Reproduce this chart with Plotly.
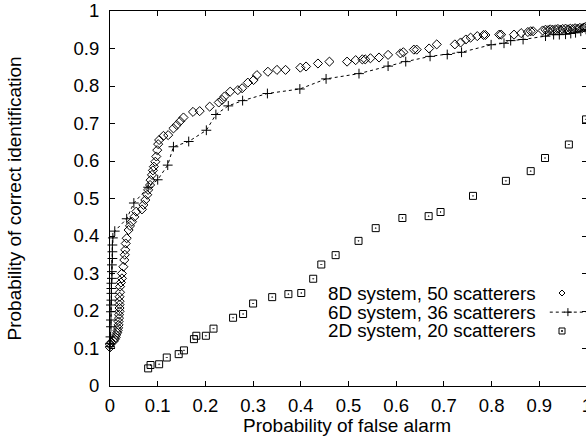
import plotly.graph_objects as go

# ---------------- data ----------------
d8_x = [0.000, 0.000, 0.002, 0.008, 0.010, 0.012, 0.013, 0.015, 0.016, 0.017, 0.018, 0.018,
        0.019, 0.019, 0.020, 0.020, 0.020, 0.020, 0.020, 0.021, 0.021, 0.023, 0.025, 0.025,
        0.028, 0.030, 0.031, 0.032, 0.033, 0.035, 0.039, 0.042, 0.046, 0.051, 0.055, 0.067,
        0.070, 0.074, 0.078, 0.080, 0.084, 0.085, 0.088, 0.090, 0.092, 0.095, 0.097, 0.099,
        0.101, 0.103, 0.112, 0.122, 0.133, 0.140, 0.147, 0.154, 0.174, 0.188, 0.209, 0.228,
        0.235, 0.240, 0.252, 0.268, 0.277, 0.289, 0.301, 0.308, 0.331, 0.350, 0.368, 0.399,
        0.411, 0.436, 0.460, 0.497, 0.515, 0.529, 0.535, 0.546, 0.564, 0.583, 0.609, 0.615,
        0.637, 0.643, 0.669, 0.685, 0.723, 0.735, 0.746, 0.756, 0.770, 0.783, 0.787, 0.816,
        0.820, 0.847, 0.862, 0.876, 0.882, 0.887, 0.907, 0.913, 0.918, 0.923, 0.928, 0.934,
        0.939, 0.944, 0.949, 0.955, 0.960, 0.965, 0.970, 0.975, 0.980, 0.985, 0.990, 0.994,
        0.998]
d8_y = [0.103, 0.110, 0.116, 0.120, 0.125, 0.130, 0.136, 0.142, 0.148, 0.155, 0.163, 0.172,
        0.181, 0.190, 0.199, 0.208, 0.217, 0.226, 0.238, 0.250, 0.265, 0.276, 0.287, 0.300,
        0.318, 0.336, 0.350, 0.363, 0.380, 0.394, 0.416, 0.427, 0.438, 0.451, 0.465, 0.471,
        0.483, 0.496, 0.510, 0.523, 0.536, 0.549, 0.563, 0.575, 0.585, 0.598, 0.612, 0.629,
        0.645, 0.656, 0.667, 0.669, 0.687, 0.696, 0.706, 0.716, 0.731, 0.733, 0.745, 0.756,
        0.763, 0.772, 0.785, 0.789, 0.794, 0.809, 0.816, 0.829, 0.838, 0.843, 0.843, 0.849,
        0.852, 0.860, 0.865, 0.865, 0.869, 0.871, 0.871, 0.874, 0.876, 0.883, 0.887, 0.890,
        0.897, 0.897, 0.900, 0.911, 0.911, 0.916, 0.924, 0.929, 0.933, 0.936, 0.936, 0.937,
        0.937, 0.937, 0.941, 0.944, 0.946, 0.946, 0.948, 0.950, 0.949, 0.951, 0.950, 0.951,
        0.952, 0.950, 0.952, 0.953, 0.951, 0.953, 0.952, 0.954, 0.953, 0.955, 0.954, 0.956,
        0.958]

d6_x = [0.000, 0.000, 0.001, 0.002, 0.002, 0.002, 0.002, 0.003, 0.003, 0.003, 0.003, 0.004,
        0.004, 0.004, 0.005, 0.005, 0.005, 0.006, 0.010, 0.035, 0.050, 0.080, 0.100, 0.121,
        0.133, 0.165, 0.202, 0.222, 0.248, 0.278, 0.330, 0.398, 0.453, 0.522, 0.583, 0.620,
        0.671, 0.707, 0.737, 0.799, 0.826, 0.840, 0.866, 0.913, 0.930, 0.942, 0.955, 0.966,
        0.976, 0.987, 0.998]
d6_y = [0.105, 0.113, 0.131, 0.158, 0.176, 0.198, 0.216, 0.229, 0.247, 0.260, 0.274, 0.287,
        0.305, 0.323, 0.340, 0.358, 0.376, 0.395, 0.413, 0.446, 0.488, 0.530, 0.550, 0.589,
        0.638, 0.652, 0.682, 0.724, 0.747, 0.761, 0.780, 0.792, 0.819, 0.833, 0.853, 0.865,
        0.879, 0.884, 0.890, 0.910, 0.914, 0.921, 0.924, 0.933, 0.937, 0.937, 0.938, 0.940,
        0.942, 0.946, 0.951]

d2_x = [0.080, 0.085, 0.103, 0.119, 0.144, 0.155, 0.176, 0.181, 0.201, 0.217, 0.258, 0.279,
        0.300, 0.340, 0.374, 0.401, 0.426, 0.443, 0.473, 0.521, 0.557, 0.613, 0.668, 0.693,
        0.761, 0.830, 0.882, 0.912, 0.962, 0.998]
d2_y = [0.047, 0.056, 0.058, 0.076, 0.085, 0.095, 0.125, 0.134, 0.134, 0.153, 0.182, 0.192,
        0.220, 0.237, 0.245, 0.248, 0.286, 0.324, 0.349, 0.387, 0.421, 0.448, 0.453, 0.464,
        0.507, 0.547, 0.573, 0.608, 0.644, 0.711]

series_names = ["8D system, 50 scatterers", "6D system, 36 scatterers", "2D system, 20 scatterers"]
x_title = "Probability of false alarm"
y_title = "Probability of correct identification"

FONT = "Liberation Sans, Arial, Helvetica, sans-serif"

fig = go.Figure()
fig.add_trace(go.Scatter(x=d8_x, y=d8_y, mode="markers", name=series_names[0],
                         marker=dict(symbol="diamond-open", size=7, color="black",
                                     line=dict(width=1, color="black")),
                         cliponaxis=False, showlegend=False))
fig.add_trace(go.Scatter(x=d6_x, y=d6_y, mode="lines+markers", name=series_names[1],
                         line=dict(color="black", width=1, dash="3px,3px"),
                         marker=dict(symbol="cross-thin-open", size=7, color="black",
                                     line=dict(width=1, color="black")),
                         cliponaxis=False, showlegend=False))
fig.add_trace(go.Scatter(x=d2_x, y=d2_y, mode="markers", name=series_names[2],
                         marker=dict(symbol="square-open-dot", size=7, color="black",
                                     line=dict(width=1, color="black")),
                         cliponaxis=False, showlegend=False))

axis_common = dict(range=[0, 1], dtick=0.1, tick0=0, ticks="inside", ticklen=5,
                   tickcolor="black", mirror="allticks", showline=True, linecolor="black",
                   linewidth=1, showgrid=False, zeroline=False, ticklabeloverflow="allow",
                   tickfont=dict(family=FONT, size=18.5, color="black"))

# figure is 1px wider than the window so the right frame falls just outside, as in the reference
fig.update_layout(
    width=587, height=438,
    margin=dict(l=110, r=0, t=11, b=52, autoexpand=False),
    paper_bgcolor="white", plot_bgcolor="white",
    xaxis=dict(**axis_common, ticklabelstandoff=3),
    yaxis=dict(**axis_common, ticklabelstandoff=6),
    font=dict(family=FONT, size=19, color="black"),
)

# axis titles
fig.add_annotation(text=x_title, xref="paper", yref="paper", x=0.4979, y=-0.104,
                   xanchor="center", yanchor="middle", showarrow=False,
                   font=dict(family=FONT, size=19, color="black"))
fig.add_annotation(text=y_title, xref="paper", yref="paper", x=-0.1992, y=0.5,
                   xanchor="center", yanchor="middle", textangle=-90, showarrow=False,
                   font=dict(family=FONT, size=19, color="black"))

# legend (gnuplot style: text right-aligned, sample on the right)
leg_y = [0.248, 0.197, 0.1467]
for name, yy in zip(series_names, leg_y):
    fig.add_annotation(text=name, xref="paper", yref="paper", x=0.8973, y=yy,
                       xanchor="right", yanchor="middle", showarrow=False,
                       font=dict(family=FONT, size=18.8, color="black"))

fig.add_shape(type="path", xref="paper", yref="paper", xsizemode="pixel", ysizemode="pixel",
              xanchor=0.9476, yanchor=leg_y[0], path="M 0,3 L 3,0 L 0,-3 L -3,0 Z",
              line=dict(color="black", width=1))
fig.add_shape(type="line", xref="paper", yref="paper", x0=0.922, x1=1.0, y0=leg_y[1], y1=leg_y[1],
              line=dict(color="black", width=1, dash="3px,3px"))
fig.add_shape(type="path", xref="paper", yref="paper", xsizemode="pixel", ysizemode="pixel",
              xanchor=0.960, yanchor=leg_y[1], path="M -4,0 L 4,0 M 0,-4 L 0,4",
              line=dict(color="black", width=1))
fig.add_shape(type="path", xref="paper", yref="paper", xsizemode="pixel", ysizemode="pixel",
              xanchor=0.9476, yanchor=leg_y[2], path="M -3,-3 L 3,-3 L 3,3 L -3,3 Z",
              line=dict(color="black", width=1))
fig.add_shape(type="path", xref="paper", yref="paper", xsizemode="pixel", ysizemode="pixel",
              xanchor=0.9476, yanchor=leg_y[2], path="M -0.5,-0.5 L 0.5,-0.5 L 0.5,0.5 L -0.5,0.5 Z",
              line=dict(color="black", width=1))

# remove the default 8px page margin so the figure fills the window exactly
fig.write_html("out.html", config={"displayModeBar": False},
               post_script="document.body.style.margin='0';document.body.style.overflow='hidden';")
